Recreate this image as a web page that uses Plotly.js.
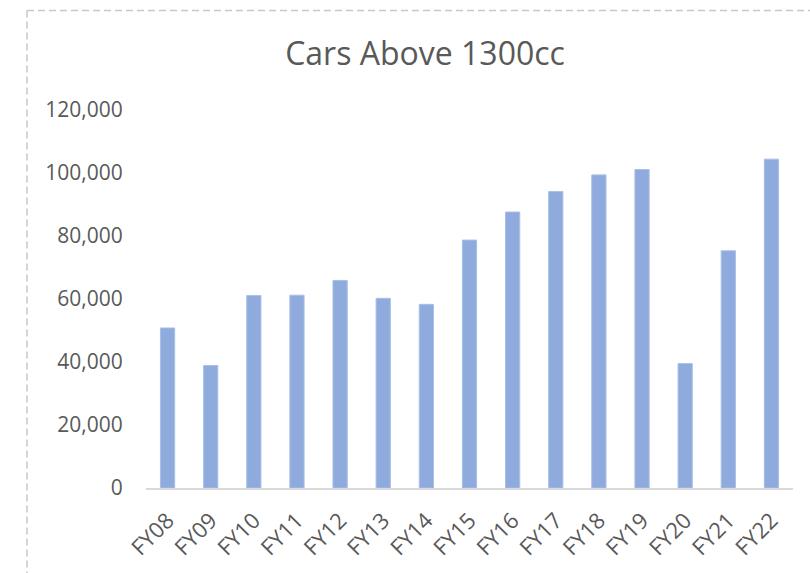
<!DOCTYPE html>
<html>
<head>
<meta charset="utf-8">
<script src="https://cdn.plot.ly/plotly-3.0.1.min.js"></script>
<style>
  html, body { margin: 0; padding: 0; background: #ffffff; }
  #chart { width: 810px; height: 573px; }
</style>
</head>
<body>
<div id="chart"></div>
<script>
const categories = ["FY08","FY09","FY10","FY11","FY12","FY13","FY14","FY15","FY16","FY17","FY18","FY19","FY20","FY21","FY22"];
const cars = [50800, 38900, 61100, 61200, 65900, 60200, 58300, 78700, 87600, 94100, 99400, 101100, 39500, 75300, 104400];
const yTicks = [0, 20000, 40000, 60000, 80000, 100000, 120000];
const chartTitle = "Cars Above 1300cc";

const textColor = "#595959";
const fontFam = "Open Sans, sans-serif";

const trace = {
  type: "bar",
  x: categories,
  y: cars,
  marker: { color: "#8FAADC", line: { color: "#A9BFE6", width: 1 } },
  hoverinfo: "x+y"
};

const layout = {
  width: 810,
  height: 573,
  autosize: false,
  margin: { l: 146, r: 17, t: 110, b: 85, pad: 0 },
  paper_bgcolor: "#ffffff",
  plot_bgcolor: "#ffffff",
  bargap: 0.67,
  showlegend: false,
  title: {
    text: chartTitle,
    font: { family: fontFam, size: 32, color: textColor },
    xref: "container", x: 425 / 810, xanchor: "center",
    yref: "container", y: 1 - 54 / 573, yanchor: "middle"
  },
  xaxis: {
    type: "category",
    tickangle: -45,
    showline: true,
    linecolor: "#D9D9D9",
    linewidth: 2,
    showgrid: false,
    zeroline: false,
    ticks: "outside",
    ticklen: 9,
    tickcolor: "rgba(0,0,0,0)",
    tickfont: { family: fontFam, size: 22, color: textColor }
  },
  yaxis: {
    range: [0, 120000],
    tickvals: yTicks,
    tickformat: ",d",
    showline: false,
    showgrid: false,
    zeroline: false,
    ticks: "outside",
    ticklen: 18,
    tickcolor: "rgba(0,0,0,0)",
    tickfont: { family: fontFam, size: 21, color: textColor }
  },
  shapes: [
    { type: "line", xref: "paper", yref: "paper",
      x0: (27 - 146) / 647, x1: 2, y0: (488 - 10.5) / 378, y1: (488 - 10.5) / 378,
      line: { color: "#C8C8C8", width: 1.5, dash: "7px,4px" } },
    { type: "line", xref: "paper", yref: "paper",
      x0: (27 - 146) / 647, x1: (27 - 146) / 647, y0: (488 - 10.5) / 378, y1: -1,
      line: { color: "#C8C8C8", width: 1.5, dash: "7px,4px" } }
  ]
};

Plotly.newPlot("chart", [trace], layout, { displayModeBar: false, staticPlot: true });
</script>
</body>
</html>
